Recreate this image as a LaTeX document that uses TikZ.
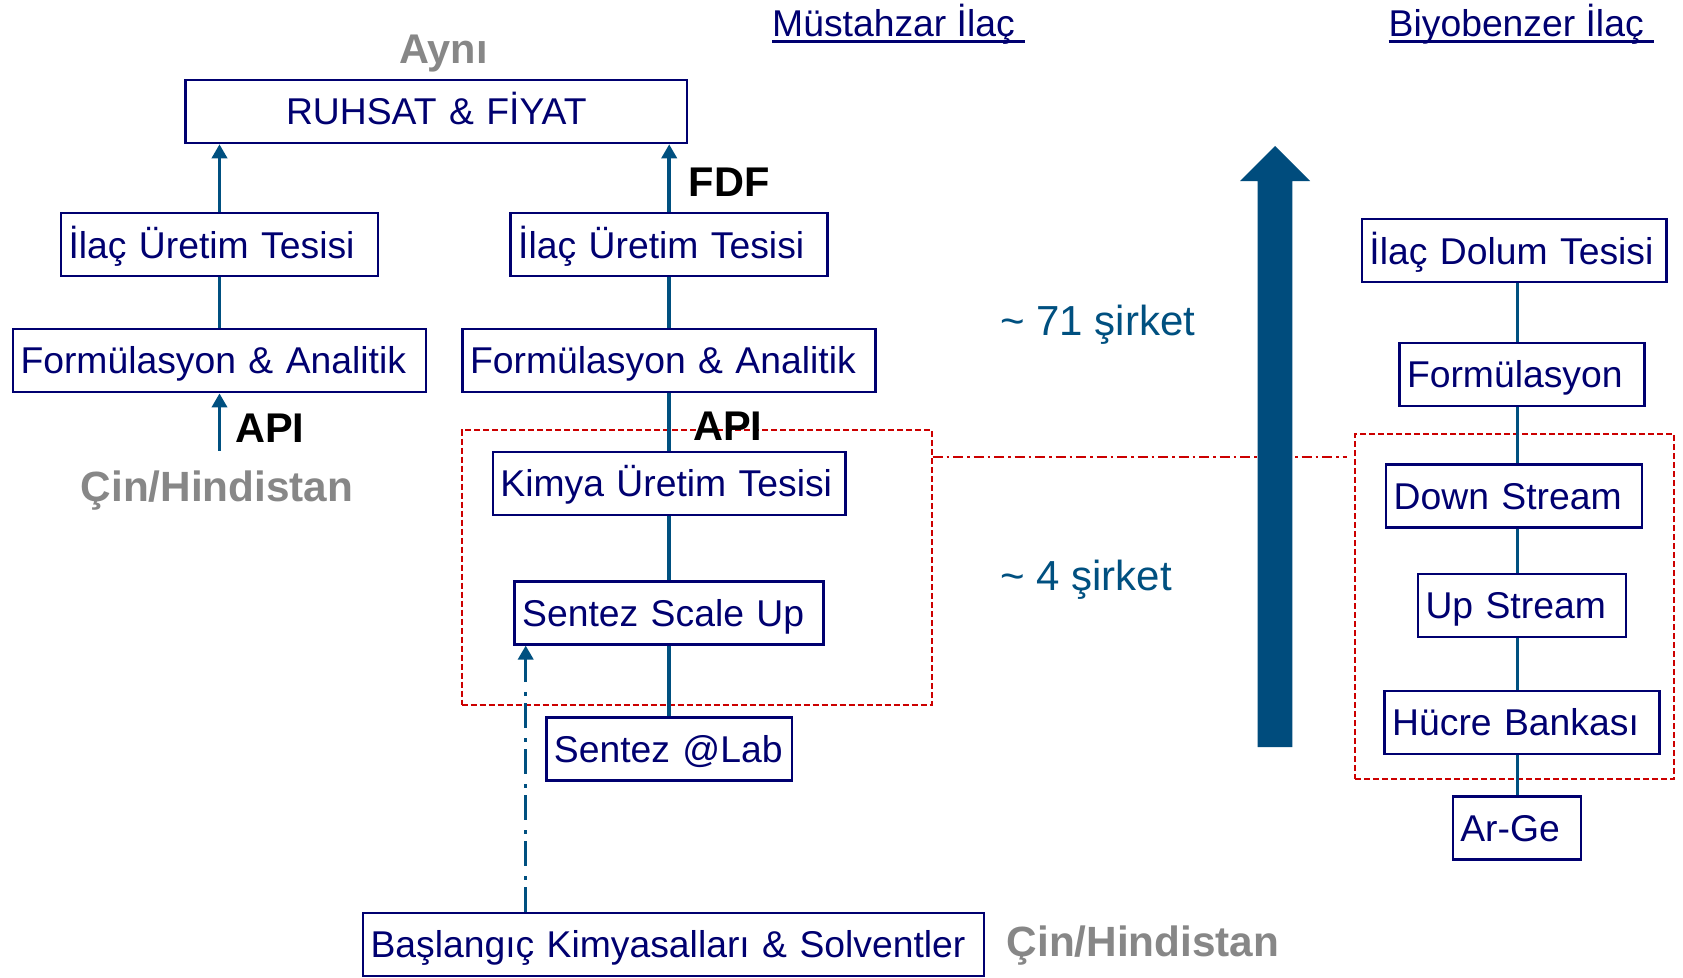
\documentclass[tikz,border=0pt]{standalone}
\usepackage{fontspec}
\setmainfont{Liberation Sans}
\usetikzlibrary{arrows.meta}
\definecolor{navyc}{RGB}{0,0,112}
\definecolor{linec}{RGB}{0,80,128}
\definecolor{bigc}{RGB}{0,76,125}
\definecolor{grayc}{RGB}{135,135,135}
\definecolor{redc}{RGB}{204,0,0}
\newcommand{\boxfont}{\fontsize{37.3}{44}\selectfont}
\tikzset{
  box/.style={draw=navyc, line width=2.5pt, fill=white, minimum height=63pt,
    inner xsep=7.5pt, inner ysep=0pt, text=navyc, font=\boxfont,
    text height=26.7pt, text depth=0pt, align=left},
  conn/.style={draw=linec, line width=3.5pt},
  upar/.style={conn, -{Triangle[width=15pt 0 0,length=14pt 0 0]}},
  dashar/.style={draw=linec, line width=3.5pt, dash pattern=on 25pt off 7pt on 4pt off 10pt,
    -{Triangle[width=15pt 0 0,length=14pt 0 0]}},
  redbox/.style={draw=redc, line width=2pt, dash pattern=on 6pt off 3pt, inner sep=0pt},
  reddd/.style={draw=redc, line width=2pt, dash pattern=on 10pt off 4pt on 2.5pt off 4pt},
  boldlbl/.style={font=\fontsize{41.5}{50}\selectfont\bfseries, inner sep=0pt, text=black},
  graylbl/.style={font=\fontsize{42.3}{50}\selectfont\bfseries, inner sep=0pt, text=grayc},
  cnt/.style={font=\fontsize{42}{50}\selectfont, inner sep=0pt, text=linec},
  headc/.style={font=\boxfont, inner sep=0pt, text=navyc},
}
\begin{document}
\begin{tikzpicture}[x=1pt,y=-1pt]
\useasboundingbox (0,0) rectangle (1683,977);
\fill[white] (0,0) rectangle (1683,977);

% red dashed groups
\node[redbox, minimum width=470.2pt, minimum height=275pt] (redM) at (696.6,567.5) {};
\node[redbox, minimum width=319pt, minimum height=345pt] (redR) at (1514.5,606.5) {};
\coordinate (ddy) at (0,457);
\draw[reddd, shorten >=7pt] (redM.east |- ddy) -- (redR.west |- ddy);

% big arrow
\fill[bigc] (1257.7,747) -- (1257.7,181) -- (1240,181) -- (1275,146) -- (1310,181)
  -- (1292.3,181) -- (1292.3,747) -- cycle;

% boxes
\node[box, text width=486.5pt, align=center] (ruhsat) at (436.3,111.5) {RUHSAT \& FİYAT};
\node[box, text width=302pt] (ilacL) at (219.5,244.7) {\mbox{İlaç Üretim Tesisi}};
\node[box, text width=302pt] (ilacM) at (669.2,244.7) {\mbox{İlaç Üretim Tesisi}};
\node[box, text width=398pt] (formL) at (219.5,360.6) {\mbox{Formülasyon \& Analitik}};
\node[box, text width=398pt] (formM) at (669.2,360.6) {\mbox{Formülasyon \& Analitik}};
\node[box, text width=337.5pt] (kimya) at (669.2,483.5) {\mbox{Kimya Üretim Tesisi}};
\node[box, text width=294pt] (scale) at (669.2,612.8) {\mbox{Sentez Scale Up}};
\node[box, text width=230.5pt] (lab) at (669.2,749.2) {\mbox{Sentez @Lab}};
\node[box, text width=606pt] (basla) at (673.5,944.5) {\mbox{Başlangıç Kimyasalları \& Solventler}};

\node[box, text width=289.5pt] (dolum) at (1514.2,250.7) {\mbox{İlaç Dolum Tesisi}};
\node[box, text width=230pt] (formR) at (1522,374.5) {\mbox{Formülasyon}};
\node[box, text width=241pt] (down) at (1514.2,495.8) {\mbox{Down Stream}};
\node[box, text width=193pt] (up) at (1522,605.3) {\mbox{Up Stream}};
\node[box, text width=260pt] (hucre) at (1522.2,722.5) {\mbox{Hücre Bankası}};
\node[box, text width=113pt] (arge) at (1516.8,828.2) {\mbox{Ar-Ge}};

% connectors
\draw[upar] (ilacL.north) -- (ruhsat.south -| ilacL.north);
\draw[upar] (ilacM.north) -- (ruhsat.south -| ilacM.north);
\draw[conn] (ilacL.south) -- (formL.north);
\draw[conn] (ilacM.south) -- (formM.north);
\coordinate (apistart) at (219.5,450.7);
\draw[upar] (apistart) -- (formL.south);
\draw[conn] (formM.south) -- (kimya.north);
\draw[conn] (kimya.south) -- (scale.north);
\draw[conn] (scale.south) -- (lab.north);
\coordinate (dax) at (525.7,0);
\draw[dashar] (basla.north -| dax) -- (scale.south -| dax);

\coordinate (rx) at (1517.5,0);
\draw[conn] (dolum.south -| rx) -- (formR.north -| rx);
\draw[conn] (formR.south -| rx) -- (down.north -| rx);
\draw[conn] (down.south -| rx) -- (up.north -| rx);
\draw[conn] (up.south -| rx) -- (hucre.north -| rx);
\draw[conn] (hucre.south -| rx) -- (arge.north -| rx);

% labels
\node[boldlbl, text=grayc, anchor=base] (ayni) at (443.5,63.3) {Aynı};
\node[boldlbl, anchor=base west] (fdf) at (688.7,196.7) {FDF};
\node[boldlbl, anchor=base west] (apiL) at (235,442.7) {API};
\node[boldlbl, anchor=base west] (apiM) at (693,440.5) {API};
\node[graylbl, anchor=base west] (cinL) at (80.5,501.7) {Çin/Hindistan};
\node[graylbl, anchor=base west] (cinB) at (1006.5,956.7) {Çin/Hindistan};
\node[cnt, anchor=base west] (s71) at (1000,335) {\textasciitilde{} 71 şirket};
\node[cnt, anchor=base west] (s4) at (1000,590) {\textasciitilde{} 4 şirket};

\node[headc, anchor=base west] (h1) at (772,36.7) {Müstahzar İlaç};
\node[headc, anchor=base west] (h2) at (1388.5,36.7) {Biyobenzer İlaç};
\draw[navyc, line width=2.7pt] ([yshift=-5pt]h1.base west) -- ([yshift=-5pt,xshift=10.4pt]h1.base east);
\draw[navyc, line width=2.7pt] ([yshift=-5pt]h2.base west) -- ([yshift=-5pt,xshift=10.4pt]h2.base east);
\end{tikzpicture}
\end{document}
